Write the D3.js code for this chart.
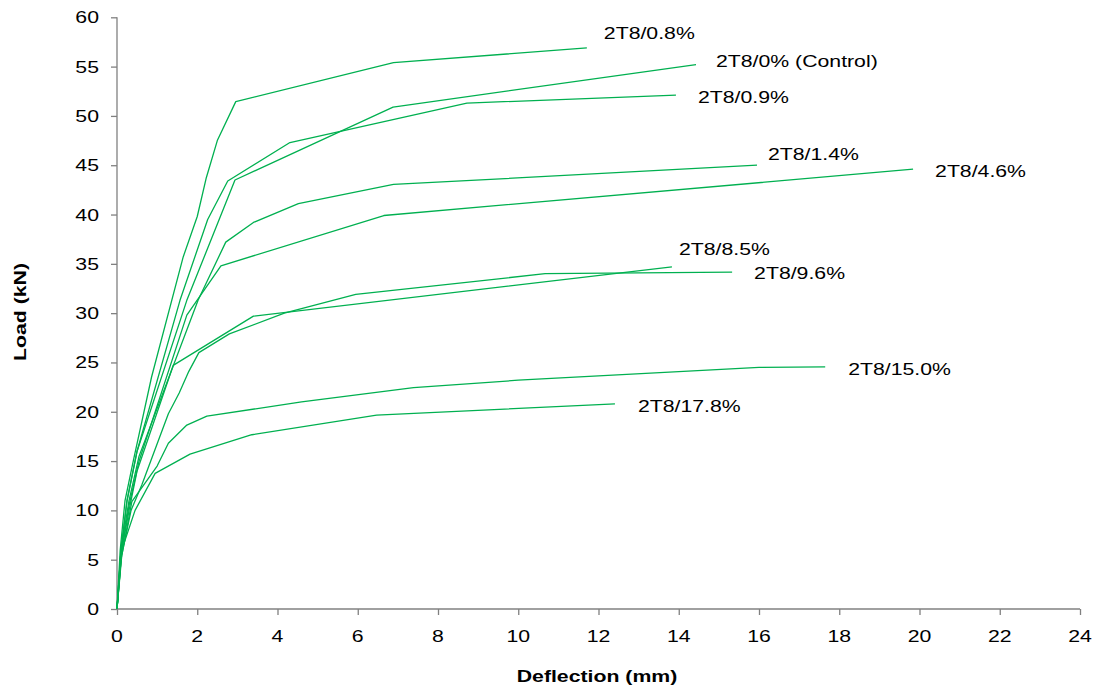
<!DOCTYPE html>
<html>
<head>
<meta charset="utf-8">
<script src="https://cdn.jsdelivr.net/npm/d3@7"></script>
<style>
  html, body { margin: 0; padding: 0; background: #fff; }
  svg { display: block; }
  text { font-family: "Liberation Sans", Arial, sans-serif; fill: #000; }
</style>
</head>
<body>
<svg id="chart" width="1102" height="693"></svg>
<script>
// ---- Data ----
const seriesNames = ["2T8/0.8%", "2T8/0% (Control)", "2T8/0.9%", "2T8/1.4%", "2T8/4.6%",
                     "2T8/8.5%", "2T8/9.6%", "2T8/15.0%", "2T8/17.8%"];

const s08_x = [0, 0.08, 0.2, 0.41, 0.86, 1.65, 2.0, 2.22, 2.5, 2.96, 6.89, 11.71];
const s08_y = [0, 6, 11, 15.1, 23.5, 35.7, 39.8, 43.65, 47.5, 51.45, 55.4, 56.9];

const sCtrl_x = [0, 0.1, 0.25, 0.5, 1.74, 2.94, 6.88, 14.43];
const sCtrl_y = [0, 6, 11, 16, 31.3, 43.5, 50.9, 55.2];

const s09_x = [0, 0.1, 0.25, 0.5, 1.57, 2.26, 2.76, 4.31, 8.72, 13.93];
const s09_y = [0, 6, 11, 16, 31.3, 39.5, 43.4, 47.3, 51.3, 52.1];

const s14_x = [0, 0.1, 0.3, 0.55, 2.02, 2.71, 3.40, 4.52, 6.89, 15.95];
const s14_y = [0, 6, 11, 15.5, 31.3, 37.2, 39.2, 41.1, 43.05, 45.0];

const s46_x = [0, 0.1, 0.3, 0.55, 1.74, 2.59, 6.65, 19.84];
const s46_y = [0, 5.5, 10.5, 15, 29.8, 34.8, 39.9, 44.6];

const s85_x = [0, 0.12, 0.3, 0.5, 1.40, 3.40, 13.83];
const s85_y = [0, 6, 10, 14, 24.7, 29.7, 34.7];

const s96_x = [0, 0.12, 0.35, 0.62, 1.28, 1.55, 1.79, 2.04, 2.80, 4.17, 5.95, 10.67, 15.33];
const s96_y = [0, 5.5, 10, 12.6, 19.8, 21.9, 24.1, 26.0, 27.9, 30.0, 31.9, 34.0, 34.15];

const s150_x = [0, 0.1, 0.37, 1.0, 1.28, 1.74, 2.24, 4.6, 7.39, 10.0, 16.0, 17.65];
const s150_y = [0, 5, 10.9, 14.5, 16.8, 18.65, 19.56, 21.0, 22.45, 23.2, 24.5, 24.55];

const s178_x = [0, 0.12, 0.45, 0.95, 1.82, 3.36, 6.47, 12.41];
const s178_y = [0, 6.0, 10.0, 13.75, 15.7, 17.67, 19.66, 20.8];

const xTicks = [0, 2, 4, 6, 8, 10, 12, 14, 16, 18, 20, 22, 24];
const yTicks = [0, 5, 10, 15, 20, 25, 30, 35, 40, 45, 50, 55, 60];
const xTitle = "Deflection (mm)";
const yTitle = "Load (kN)";

// ---- Layout ----
const seriesX = [s08_x, sCtrl_x, s09_x, s14_x, s46_x, s85_x, s96_x, s150_x, s178_x];
const seriesY = [s08_y, sCtrl_y, s09_y, s14_y, s46_y, s85_y, s96_y, s150_y, s178_y];
// label offsets from each series' last point (px)
const labelDx = [17, 20, 22, 11, 22, 7, 22, 23, 23];
const labelDy = [-9, 2, 8, -5, 8, -12, 7, 8, 8];

const stretch = 1.25;
const fontSize = 17;
const lineColor = "#00b050";
const axisColor = "#808080";

const svg = d3.select("#chart");
const x = d3.scaleLinear().domain([0, 24]).range([117, 1080]);
const y = d3.scaleLinear().domain([0, 60]).range([609, 17.3]);

function stretchedText(g, tx, ty, str, anchor, weight, rotate) {
  const t = g.append("text")
    .attr("transform", `translate(${tx},${ty})` + (rotate ? ` rotate(${rotate})` : "") + ` scale(${stretch},1)`)
    .attr("text-anchor", anchor)
    .style("font-size", fontSize + "px")
    .text(str);
  if (weight) t.style("font-weight", weight);
  return t;
}

// Axes
const xAxis = d3.axisBottom(x).tickValues(xTicks).tickSize(6).tickFormat("");
const yAxis = d3.axisLeft(y).tickValues(yTicks).tickSize(6).tickFormat("");
const gx = svg.append("g").attr("transform", `translate(0,${y(0)})`).call(xAxis);
const gy = svg.append("g").attr("transform", `translate(${x(0)},0)`).call(yAxis);
[gx, gy].forEach(g => {
  g.select(".domain").attr("stroke", axisColor).attr("stroke-width", 1.3);
  g.selectAll(".tick line").attr("stroke", axisColor).attr("stroke-width", 1.3);
});
gx.select(".domain").attr("d", `M${x(0)},0H${x(24)}`);
gy.select(".domain").attr("d", `M0,${y(0)}V${y(60)}`);

const labels = svg.append("g");
xTicks.forEach(v => stretchedText(labels, x(v), 641.5, String(v), "middle"));
yTicks.forEach(v => stretchedText(labels, 99, y(v) + 6, String(v), "end"));

stretchedText(svg, 597, 682, xTitle, "middle", "bold");
stretchedText(svg, 26, 312, yTitle, "middle", "bold", -90);

// Series
const line = d3.line().x(d => x(d[0])).y(d => y(d[1]));
const plot = svg.append("g");
seriesNames.forEach((name, i) => {
  const pts = seriesX[i].map((v, j) => [v, seriesY[i][j]]);
  plot.append("path")
    .attr("d", line(pts))
    .attr("fill", "none")
    .attr("stroke", lineColor)
    .attr("stroke-width", 1.3)
    .attr("stroke-linejoin", "round");
  const last = pts[pts.length - 1];
  stretchedText(plot, x(last[0]) + labelDx[i], y(last[1]) + labelDy[i], name, "start");
});
</script>
</body>
</html>
